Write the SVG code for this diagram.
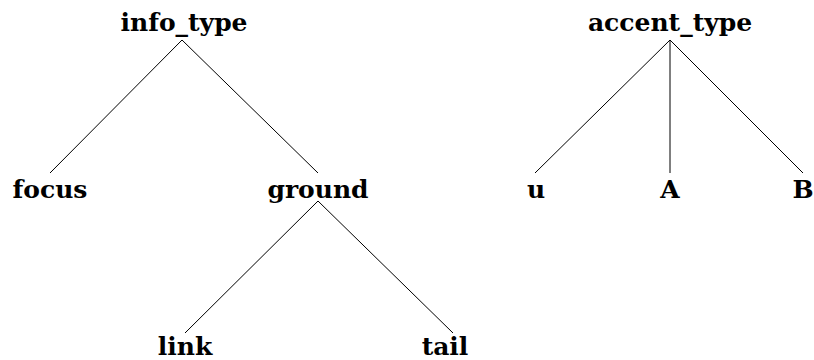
<svg xmlns="http://www.w3.org/2000/svg" width="814" height="360" viewBox="0 0 814 360">
<style>
text{font-family:"DejaVu Serif","Liberation Serif",serif;font-weight:bold;font-size:25px;text-anchor:middle;fill:#000}
.e line{stroke:#000;stroke-width:1}
</style>
<rect width="814" height="360" fill="#fff"/>
<g class="e" id="edges">
<line x1="182" y1="40" x2="50" y2="173"/>
<line x1="182" y1="40" x2="318" y2="173"/>
<line x1="318" y1="201" x2="185" y2="333"/>
<line x1="318" y1="201" x2="453" y2="333"/>
<line x1="670" y1="40" x2="535" y2="173"/>
<line x1="670" y1="40" x2="670" y2="173"/>
<line x1="670" y1="40" x2="803" y2="173"/>
</g>
<g id="info_type"><text x="184" y="31">info_type</text></g>
<g id="focus"><text x="50" y="198">focus</text></g>
<g id="ground"><text x="318" y="198">ground</text></g>
<g id="link"><text x="185" y="355">link</text></g>
<g id="tail"><text x="445" y="355">tail</text></g>
<g id="accent_type"><text x="670" y="31">accent_type</text></g>
<g id="u"><text x="536" y="198">u</text></g>
<g id="A"><text x="670" y="198">A</text></g>
<g id="B"><text x="803" y="198">B</text></g>
</svg>
